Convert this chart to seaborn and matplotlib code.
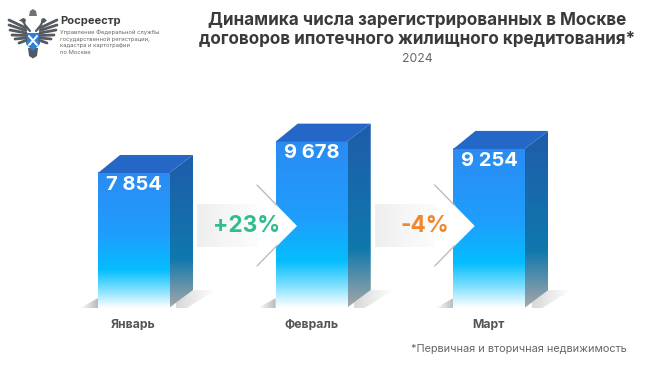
import numpy as np
import pandas as pd
import matplotlib
matplotlib.use('Agg')
import matplotlib.pyplot as plt
from matplotlib.colors import LinearSegmentedColormap, to_rgb
from matplotlib.patches import Polygon
import seaborn as sns

# Data
months = ['Январь', 'Февраль', 'Март']
contracts = [7854, 9678, 9254]
value_labels = ['7 854', '9 678', '9 254']
changes = ['+23%', '-4%']
change_colors = ['#2dbd8e', '#f0882e']
title_lines = 'Динамика числа зарегистрированных в Москве\nдоговоров ипотечного жилищного кредитования*'
subtitle = '2024'
footnote = '*Первичная и вторичная недвижимость'
org_name = 'Росреестр'
org_lines = ['Управление Федеральной службы', 'государственной регистрации,',
             'кадастра и картографии', 'по Москве']

W, H = 650, 365
BASE_Y = 308
PX_PER_UNIT = 0.01719
X0, STEP = 133.5, 177.7
DX_PX, DY_PX = 24, 18

sns.set_theme(style='white')
plt.rcParams['font.family'] = ['Inter', 'DejaVu Sans']

df = pd.DataFrame({'month': months, 'contracts': contracts})

fig = plt.figure(figsize=(6.5, 3.65), dpi=100, facecolor='white')
ax = fig.add_axes([0, (H - BASE_Y) / H, 1, BASE_Y / H])
sns.barplot(data=df, x='month', y='contracts', width=0.4, color='#2a8ff5', ax=ax)
xlim = ((0 - X0) / STEP, (W - X0) / STEP)
ylim = (0, BASE_Y / PX_PER_UNIT)
ax.set_xlim(xlim)
ax.set_ylim(ylim)
ax.set_xlabel('')
ax.set_ylabel('')
ax.set_yticks([])
ax.tick_params(axis='x', length=0, pad=8, labelsize=8.8, labelcolor='#555555')
for lab in ax.get_xticklabels():
    lab.set_fontweight('bold')
sns.despine(ax=ax, left=True, bottom=True)
ax.patch.set_alpha(0)

dx = DX_PX / STEP
dy = DY_PX / PX_PER_UNIT

front_cmap = LinearSegmentedColormap.from_list('front', [
    (0, '#2b8cf3'), (0.45, '#1f9dfd'), (0.72, '#05bdfe'), (0.85, '#70dcff'), (1, '#ffffff')])
side_cmap = LinearSegmentedColormap.from_list('side', [
    (0, '#1f5cab'), (0.68, '#0f78ad'), (1, '#a8a8a8')])
grad = np.linspace(0, 1, 256).reshape(-1, 1)


def fade(color, start, end, n=64):
    # horizontal colour ramp with falling alpha, for the floor shadows
    img = np.ones((1, n, 4))
    img[..., :3] = to_rgb(color)
    img[..., 3] = np.linspace(start, end, n)
    return img


for bar, val, text in zip(ax.patches, contracts, value_labels):
    x1, w = bar.get_x(), bar.get_width()
    x2 = x1 + w
    bar.set_visible(False)

    # floor shadows
    poly_r = Polygon([(x2, 0), (x2 + dx, dy), (x2 + dx + 0.13, dy), (x2 + 0.1, 0)],
                     fc='none', ec='none')
    ax.add_patch(poly_r)
    shadow_r = ax.imshow(fade('#b8b8b8', 0.55, 0), aspect='auto', zorder=1,
                         extent=(x2 + dx * 0.3, x2 + dx + 0.13, 0, dy))
    shadow_r.set_clip_path(poly_r)
    poly_l = Polygon([(x1, 0), (x1, dy * 0.55), (x1 - 0.1, 0)], fc='none', ec='none')
    ax.add_patch(poly_l)
    shadow_l = ax.imshow(fade('#a8a8a8', 0, 0.8), aspect='auto', zorder=1,
                         extent=(x1 - 0.1, x1, 0, dy * 0.55))
    shadow_l.set_clip_path(poly_l)

    # front face
    ax.imshow(grad, cmap=front_cmap, extent=(x1, x2, 0, val), aspect='auto',
              origin='upper', zorder=3)
    # side face
    side_poly = Polygon([(x2, 0), (x2 + dx, dy), (x2 + dx, val + dy), (x2, val)],
                        fc='none', ec='none')
    ax.add_patch(side_poly)
    side = ax.imshow(grad, cmap=side_cmap, extent=(x2, x2 + dx, 0, val + dy), aspect='auto',
                     origin='upper', zorder=2)
    side.set_clip_path(side_poly)
    # top face
    ax.add_patch(Polygon([(x1, val), (x1 + dx * 0.92, val + dy), (x2 + dx, val + dy), (x2, val)],
                         fc='#2467c6', ec='none', zorder=3))
    ax.annotate(text, (x1 + w / 2, val), xytext=(0.5, -8.5), textcoords='offset points',
                ha='center', va='center', color='white', fontsize=14.5, fontweight='bold', zorder=5)

ax.set_xlim(xlim)
ax.set_ylim(ylim)

# pixel overlay for arrows, header and logo
ov = fig.add_axes([0, 0, 1, 1], zorder=5)
ov.set_xlim(0, W)
ov.set_ylim(H, 0)
ov.axis('off')
ov.patch.set_alpha(0)

band_cmap = LinearSegmentedColormap.from_list('band', ['#eeeeee', '#f6f6f6', '#fcfcfc'])
for i, (label, col) in enumerate(zip(changes, change_colors)):
    left = X0 + i * STEP + 63.5
    tail = left + 60
    tip = tail + 40
    ov.imshow(np.linspace(0, 1, 128).reshape(1, -1), cmap=band_cmap, aspect='auto',
              extent=(left, tail, 247, 204), zorder=1)
    ov.add_patch(Polygon([(tail, 185), (tip, 226), (tail, 266)], fc='white', ec='none', zorder=2))
    ov.plot([tail, tail + 20], [185, 205.5], color='#bdbdbd', lw=1.0, zorder=3)
    ov.plot([tail, tail + 20], [266, 245.5], color='#bdbdbd', lw=1.0, zorder=3)
    ov.text(left + 50, 226, label, color=col, fontsize=16.3, fontweight='bold',
            ha='center', va='center', zorder=4)
ov.set_xlim(0, W)
ov.set_ylim(H, 0)

# header
ov.text(417, 30, title_lines, ha='center', va='center', fontsize=12.3, fontweight='bold',
        color='#3a3a3a', linespacing=1.12)
ov.text(417, 59, subtitle, ha='center', va='center', fontsize=8.8, color='#666666')
ov.text(519, 349, footnote, ha='center', va='center', fontsize=7.85, color='#666666')

# logo text
ov.text(60.5, 21, org_name, ha='left', va='center', fontsize=8, fontweight='bold', color='#3c3c3c')
for y, line in zip([32, 39, 46, 53], org_lines):
    ov.text(60.5, y, line, ha='left', va='center', fontsize=4.2, color='#666666')

# emblem: mirrored wings made of feathers
eagle = '#555a61'
for side_sign in (-1, 1):
    for k, (tx, ty) in enumerate([(24, 20), (24, 25), (23, 30), (21, 35), (18, 39), (14, 43)]):
        ov.plot([33 + side_sign * 7, 33 + side_sign * tx], [28 + k * 2.5, ty],
                color=eagle, lw=2.0, solid_capstyle='round')
    # necks and heads
    ov.plot([33 + side_sign * 3, 33 + side_sign * 8, 33 + side_sign * 10],
            [31, 25, 20], color=eagle, lw=1.6)
    ov.plot([33 + side_sign * 10], [19.5], marker='o', ms=3.4, color=eagle, mew=0)
    ov.plot([33 + side_sign * 10, 33 + side_sign * 13], [19.5, 20.5], color=eagle, lw=1.1)
# crown
ov.add_patch(Polygon([(29, 16), (30, 11), (33, 9), (36, 11), (37, 16)], fc='#6f737a', ec='none'))
# tail
ov.add_patch(Polygon([(28, 48), (38, 48), (37, 56), (33, 58.5), (29, 56)], fc=eagle, ec='none'))
# shield
ov.add_patch(Polygon([(26, 33), (40, 33), (40, 44), (33, 51), (26, 44)], fc='#2f7fd6', ec='none'))
ov.plot([29, 37], [36, 45], color='white', lw=1.4)
ov.plot([37, 29], [36, 45], color='white', lw=1.4)

fig.savefig('out.png', dpi=100, facecolor='white')
